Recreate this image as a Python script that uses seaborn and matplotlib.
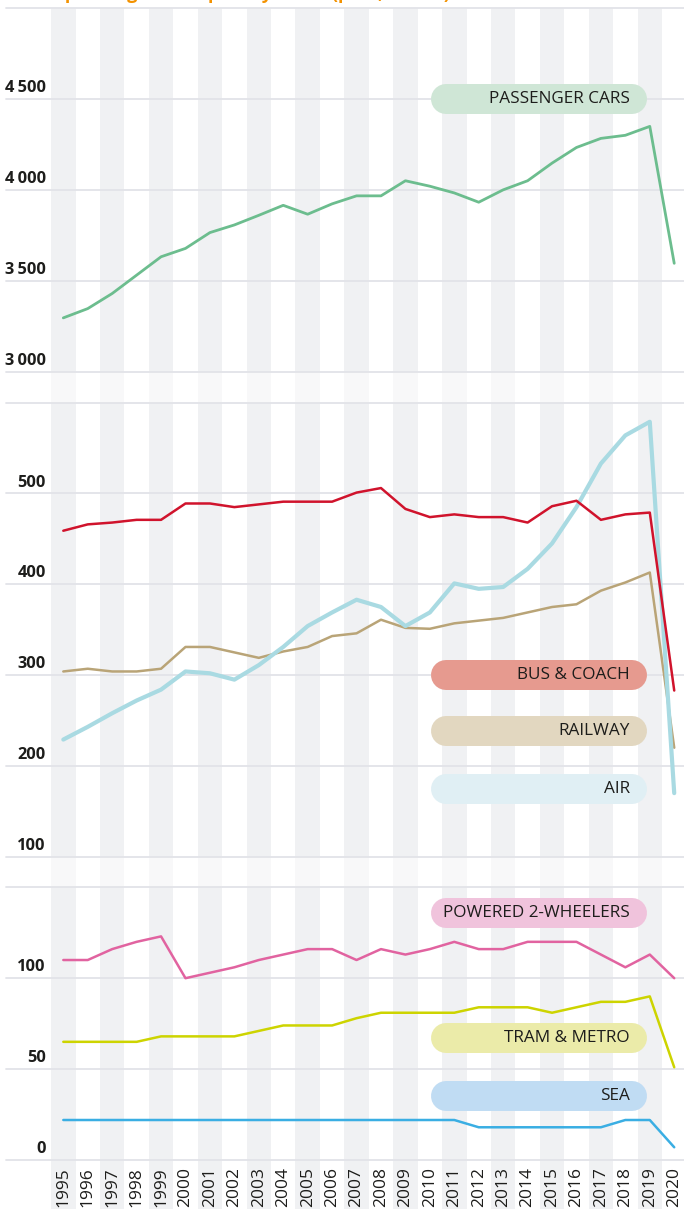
import matplotlib
matplotlib.use("Agg")
import matplotlib.pyplot as plt
import seaborn as sns
import pandas as pd

# data (billion pkm)
years = list(range(1995, 2021))
cars = [3296, 3347, 3430, 3531, 3632, 3678, 3765, 3807, 3860, 3915, 3866, 3923, 3967,
        3967, 4050, 4020, 3983, 3932, 4000, 4050, 4147, 4233, 4283, 4300, 4349, 3596]
bus = [459, 466, 468, 471, 471, 489, 489, 485, 488, 491, 491, 491, 501,
       506, 483, 474, 477, 474, 474, 468, 486, 492, 471, 477, 479, 283]
rail = [304, 307, 304, 304, 307, 331, 331, 325, 319, 326, 331, 343, 346,
        361, 352, 351, 357, 360, 363, 369, 375, 378, 393, 402, 413, 220]
air = [229, 243, 258, 272, 284, 304, 302, 295, 311, 331, 354, 369, 383,
       375, 354, 369, 401, 395, 397, 417, 445, 485, 533, 564, 579, 170]
p2w = [110, 110, 116, 120, 123, 100, 103, 106, 110, 113, 116, 116, 110,
       116, 113, 116, 120, 116, 116, 120, 120, 120, 113, 106, 113, 100]
tram = [65, 65, 65, 65, 68, 68, 68, 68, 71, 74, 74, 74, 78,
        81, 81, 81, 81, 84, 84, 84, 81, 84, 87, 87, 90, 51]
sea = [22, 22, 22, 22, 22, 22, 22, 22, 22, 22, 22, 22, 22,
       22, 22, 22, 22, 18, 18, 18, 18, 18, 18, 22, 22, 7]

# panel tick setup
p1_ticks = [3000, 3500, 4000, 4500, 5000]
p1_labels = ["3\u2009000", "3\u2009500", "4\u2009000", "4\u2009500", ""]
p2_ticks = [100, 200, 300, 400, 500, 600]
p2_labels = ["100", "200", "300", "400", "500", ""]
p3_ticks = [0, 50, 100, 150]
p3_labels = ["0", "50", "100", ""]

sns.set_style("white")
plt.rcParams["font.family"] = ["Open Sans", "DejaVu Sans"]

STRIPE = "#f0f1f3"
STRIPE_LIGHT = "#f8f8f9"
GRID = "#e2e3e8"
TXT = "#1d1d1b"

fig = plt.figure(figsize=(6.84, 12.09), dpi=100)
H = 1209.0

# background axes for the faded stripes between panels and under the year labels
bg = fig.add_axes([0, 0, 1, 1], zorder=0)
bg.set_xlim(1992.41, 2020.40)
bg.set_ylim(0, 1)
bg.axis("off")
for i, yr in enumerate(years):
    if i % 2 == 0:
        bg.axvspan(yr - 0.5, yr + 0.5, (H - 402.7) / H, (H - 371.7) / H, color=STRIPE_LIGHT, lw=0)
        bg.axvspan(yr - 0.5, yr + 0.5, (H - 887.3) / H, (H - 856.7) / H, color=STRIPE_LIGHT, lw=0)
        bg.axvspan(yr - 0.5, yr + 0.5, 0, (H - 1160) / H, color=STRIPE, lw=0)


def make_panel(top_px, bottom_px, ticks, labels):
    ax = fig.add_axes([6 / 684, 1 - bottom_px / H, 678 / 684, (bottom_px - top_px) / H], zorder=2)
    ax.set_xlim(1992.655, 2020.40)
    ax.set_ylim(ticks[0], ticks[-1])
    for i, yr in enumerate(years):
        if i % 2 == 0:
            ax.axvspan(yr - 0.5, yr + 0.5, color=STRIPE, lw=0, zorder=0)
    for t, lab in zip(ticks, labels):
        ax.axhline(t, color=GRID, lw=1.3, zorder=1, clip_on=False)
        if lab:
            ax.annotate(lab, xy=(1994.29, t), xytext=(0, 5), textcoords="offset points",
                        ha="right", va="baseline", fontsize=11.8, fontweight="bold", color=TXT)
    ax.set_yticks([])
    ax.set_xticks([])
    for s in ax.spines.values():
        s.set_visible(False)
    ax.set_xlabel("")
    ax.set_ylabel("")
    return ax


def pill(ax, y, text, color):
    ax.plot([2010.66, 2018.27], [y, y], color=color, lw=21.6, solid_capstyle="round", zorder=3)
    ax.text(2018.19, y, text, ha="right", va="center", fontsize=12.3, color=TXT, zorder=4)


def series(ax, values, color, lw):
    df = pd.DataFrame({"year": years, "value": values})
    sns.lineplot(data=df, x="year", y="value", ax=ax, color=color, lw=lw, zorder=5)


ax1 = make_panel(8, 371.7, p1_ticks, p1_labels)
series(ax1, cars, "#6cbd8e", 2.0)
pill(ax1, 4500, "PASSENGER CARS", "#cfe6d6")

ax2 = make_panel(402.7, 856.7, p2_ticks, p2_labels)
series(ax2, rail, "#b9a477", 1.8)
series(ax2, air, "#a9dae2", 3.0)
series(ax2, bus, "#d0132c", 1.8)
pill(ax2, 300, "BUS & COACH", "#e69a8f")
pill(ax2, 238, "RAILWAY", "#e2d7c0")
pill(ax2, 175, "AIR", "#e0eff4")

ax3 = make_panel(887.3, 1160, p3_ticks, p3_labels)
series(ax3, p2w, "#e163a0", 1.8)
series(ax3, tram, "#cdd400", 1.8)
series(ax3, sea, "#3aaee3", 1.8)
pill(ax3, 136, "POWERED 2-WHEELERS", "#f0c3dc")
pill(ax3, 67, "TRAM & METRO", "#ebeba9")
pill(ax3, 35, "SEA", "#c0dcf3")

ax3.set_xticks(years)
ax3.set_xticklabels([str(y) for y in years], rotation=90, fontsize=12.5, color=TXT)
ax3.tick_params(axis="x", length=0, pad=5)
for ax in (ax1, ax2):
    ax.set_xticks([])

# title sits mostly above the canvas, as in the reference crop
fig.text(10 / 684, 1 + 0.6 / H, "EU-27 passenger transport by mode (pkm, billion)",
         ha="left", va="baseline", fontsize=13, fontweight="bold", color="#f39200")

fig.savefig("out.png", dpi=100)
